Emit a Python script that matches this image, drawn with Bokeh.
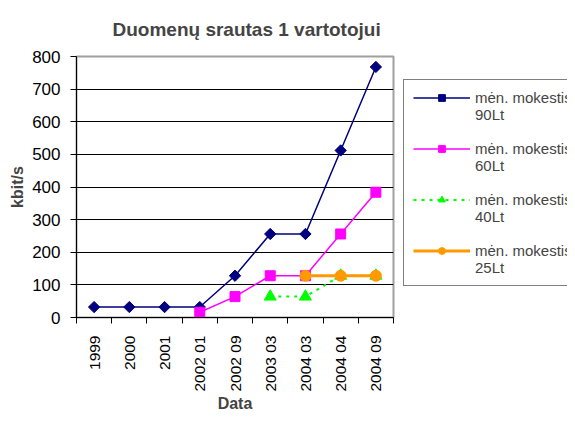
import numpy as np
from bokeh.plotting import figure
from bokeh.layouts import row
from bokeh.models import (Range1d, FixedTicker, Legend, LegendItem, Title)
from bokeh.embed import file_html
from bokeh.resources import INLINE

dates = ["1999", "2000", "2001", "2002 01", "2002 09", "2003 03", "2004 03", "2004 04", "2004 09"]
fee_90 = [32, 32, 32, 32, 128, 256, 256, 512, 768]
fee_60 = [np.nan, np.nan, np.nan, 16, 64, 128, 128, 256, 384]
fee_40 = [np.nan, np.nan, np.nan, np.nan, np.nan, 64, 64, 128, 128]
fee_25 = [np.nan, np.nan, np.nan, np.nan, np.nan, np.nan, 128, 128, 128]
labels = ["mėn. mokestis\n90Lt", "mėn. mokestis\n60Lt", "mėn. mokestis\n40Lt", "mėn. mokestis\n25Lt"]
y_ticks = [0, 100, 200, 300, 400, 500, 600, 700, 800]

FONT = "Liberation Sans"
n = len(dates)
xc = np.arange(n) + 0.5

p = figure(width=400, height=414, output_backend="svg", toolbar_location=None,
           x_range=Range1d(0, n), y_range=Range1d(0, 800),
           min_border_left=76, min_border_right=7, min_border_top=54, min_border_bottom=93)
p.background_fill_color = "white"
p.border_fill_color = "white"
p.outline_line_color = "#a0a0a0"
p.outline_line_width = 2

p.title = Title(text="Duomenų srautas 1 vartotojui", align="left", offset=36,
                text_font=FONT, text_font_size="19px", text_font_style="bold",
                standoff=33)

p.xgrid.visible = False
p.ygrid.grid_line_color = "black"
p.ygrid.grid_line_width = 1
p.ygrid.ticker = FixedTicker(ticks=y_ticks)

xa = p.xaxis[0]
xa.ticker = FixedTicker(ticks=list(xc), minor_ticks=list(range(n + 1)))
xa.major_label_overrides = {float(x): d for x, d in zip(xc, dates)}
xa.major_tick_line_color = None
xa.major_tick_out = 0
xa.major_tick_in = 0
xa.minor_tick_out = 6
xa.minor_tick_in = 0
xa.minor_tick_line_color = "black"
xa.major_label_orientation = np.pi / 2
xa.major_label_standoff = 12
xa.axis_line_color = "black"
xa.axis_label = "Data"
xa.axis_label_text_font = FONT
xa.axis_label_text_font_size = "16px"
xa.axis_label_text_font_style = "bold"
xa.axis_label_standoff = 0
xa.major_label_text_font = FONT
xa.major_label_text_font_size = "15.5px"
xa.major_label_text_color = "black"

ya = p.yaxis[0]
ya.ticker = FixedTicker(ticks=y_ticks)
ya.minor_tick_line_color = None
ya.major_tick_out = 6
ya.major_tick_in = 0
ya.major_tick_line_color = "black"
ya.axis_line_color = "black"
ya.major_label_standoff = 10
ya.major_label_text_font = FONT
ya.major_label_text_font_size = "17px"
ya.major_label_text_color = "black"
ya.axis_label = "kbit/s"
ya.axis_label_text_font = FONT
ya.axis_label_text_font_size = "16px"
ya.axis_label_text_font_style = "bold"
ya.axis_label_standoff = 3

series = [
    (fee_90, "#000080", 1.5, "solid", "square", 8, np.pi / 4),
    (fee_60, "#FF00FF", 1.5, "solid", "square", 10, 0),
    (fee_40, "#00FF00", 2, "3 5", "triangle", 12, 0),
    (fee_25, "#FF9900", 3, "solid", "circle", 11, 0),
]

# Legend lives in a second, axis-less figure placed to the right;
# its ranges keep the copies of the series outside its (clipped) frame.
pl = figure(width=167, height=414, output_backend="svg", toolbar_location=None,
            x_axis_type=None, y_axis_type=None,
            x_range=Range1d(-20, -10), y_range=Range1d(-2000, -1000),
            min_border_left=0, min_border_right=0, min_border_top=54, min_border_bottom=93)
pl.outline_line_color = None
pl.background_fill_color = "white"
pl.border_fill_color = "white"

# invisible renderer used for the label-only legend rows
blank = pl.scatter(xc, fee_90, size=1, fill_alpha=0, line_alpha=0)

items = []
for k, ((vals, color, lw, dash, marker, size, ang), lab) in enumerate(zip(series, labels)):
    vals = np.array(vals, dtype=float)
    mask = ~np.isnan(vals)
    p.line(xc[mask], vals[mask], line_color=color, line_width=lw, line_dash=dash)
    p.scatter(xc[mask], vals[mask], marker=marker, size=size, angle=ang,
              fill_color=color, line_color=color)
    ln = pl.line(xc[mask], vals[mask], line_color=color, line_width=lw, line_dash=dash)
    sc = pl.scatter(xc[mask], vals[mask], marker=marker, size=size, angle=ang,
                    fill_color=color, line_color=color)
    first, second = lab.split("\n")
    items.append(LegendItem(label=first, renderers=[ln, sc]))
    items.append(LegendItem(label=second, renderers=[blank]))
    if k < len(labels) - 1:
        items.append(LegendItem(label=" ", renderers=[blank]))

legend = Legend(items=items, location=(3, 31),
                label_text_font=FONT, label_text_font_size="15px",
                glyph_width=57, glyph_height=17, label_height=17, label_standoff=5,
                padding=9, spacing=0, margin=0,
                border_line_color="black", border_line_width=1,
                background_fill_color="white", background_fill_alpha=1)
pl.add_layout(legend, "center")

layout = row(p, pl, spacing=0)
open("out.html", "w").write(file_html(layout, INLINE))
